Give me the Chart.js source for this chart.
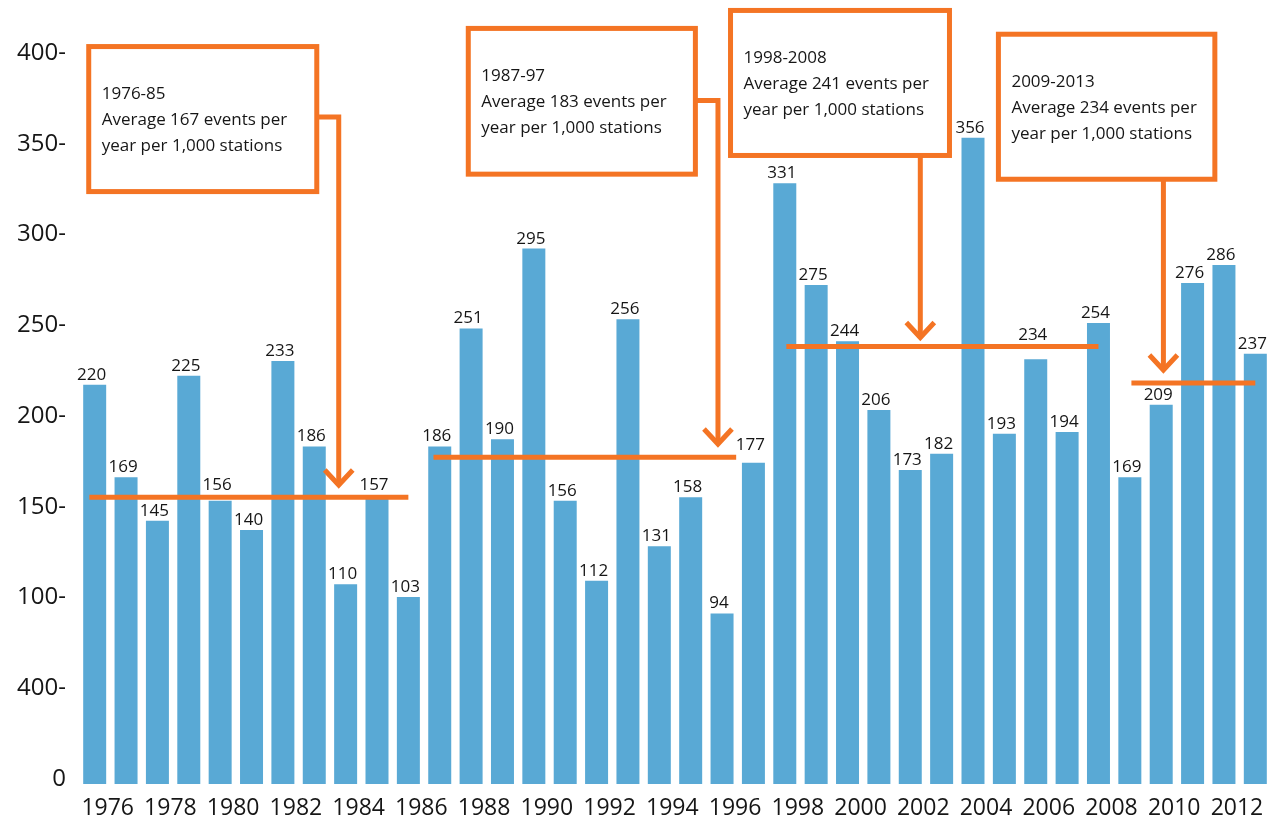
<!DOCTYPE html>
<html><head><meta charset="utf-8">
<script src="https://cdn.jsdelivr.net/npm/chart.js@4.4.1/dist/chart.umd.min.js"></script>
<style>html,body{margin:0;padding:0;background:#fff;}#wrap{width:1278px;height:821px;}canvas{display:block;}</style>
</head><body><div id="wrap"><canvas id="c" width="1278" height="821"></canvas></div>
<script>
// ---- data ----
const years = ['1976','1977','1978','1979','1980','1981','1982','1983','1984','1985','1986','1987','1988','1989','1990','1991','1992','1993','1994','1995','1996','1997','1998','1999','2000','2001','2002','2003','2004','2005','2006','2007','2008','2009','2010','2011','2012','2013'];
const values = [220,169,145,225,156,140,233,186,110,157,103,186,251,190,295,156,112,256,131,158,94,177,331,275,244,206,173,182,356,193,234,194,254,169,209,276,286,237];
const xTickLabels = ['1976','1978','1980','1982','1984','1986','1988','1990','1992','1994','1996','1998','2000','2002','2004','2006','2008','2010','2012'];
const yTickValues = [0,50,100,150,200,250,300,350,400];
const yTickLabels = ['0','400-','100-','150-','200-','250-','300-','350-','400-'];
// period annotations
const periodLabels = ['1976-85','1987-97','1998-2008','2009-2013'];
const periodAverages = [167,183,241,234];
const avgLineLevel = [158,180,241,221];          // drawn level of the orange line
const avgLineFrom = [-0.17,10.8,22.05,33.05];     // category index units
const avgLineTo = [10,20.45,32,37];
const arrowAt = [7.78,19.87,26.32,34.07];          // category index of arrow
const arrowTip = [164.7,187.3,246,228.1];          // value level of arrow tip
const boxLeft = [-0.19,11.91,20.27,28.81];
const boxRight = [7.08,19.15,27.25,35.71];
const boxTop = [406.3,416.3,426.2,413.1];
const boxBottom = [326.4,336.0,346.3,333.2];
const connectorFrom = ['right','right','bottom','bottom'];
const connectorLevel = [367.5,376.6,null,null];

const BLUE = '#59A9D5', ORANGE = '#F47424', INK = '#161616';
const FONT = "'Open Sans', sans-serif";

function avgLinePixels(chart){
  const xs = chart.scales.x, ys = chart.scales.y;
  return periodLabels.map((_,k)=>({x1: xs.getPixelForValue(avgLineFrom[k]), x2: xs.getPixelForValue(avgLineTo[k]), y: ys.getPixelForValue(avgLineLevel[k])}));
}

const dataLabels = {
  id:'dataLabels',
  afterDatasetsDraw(chart){
    const ctx = chart.ctx, meta = chart.getDatasetMeta(0);
    const lines = avgLinePixels(chart);
    ctx.save();
    ctx.font = '17px ' + FONT; ctx.fillStyle = INK;
    ctx.textAlign = 'center'; ctx.textBaseline = 'alphabetic';
    meta.data.forEach((bar,i)=>{
      const s = String(values[i]), cx = bar.x - 3, w = ctx.measureText(s).width;
      let base = bar.y - 5;
      lines.forEach(L=>{
        const overlapX = cx + w/2 > L.x1 && cx - w/2 < L.x2;
        const overlapY = base + 1 > L.y - 2.5 && base - 13 < L.y + 2.5;
        if (overlapX && overlapY) base = L.y - 7;
      });
      ctx.fillText(s, cx, base);
    });
    ctx.restore();
  }
};

const annotations = {
  id:'annotations',
  afterDraw(chart){
    const ctx = chart.ctx, xs = chart.scales.x, ys = chart.scales.y;
    const X = v => xs.getPixelForValue(v), Y = v => ys.getPixelForValue(v);
    const lines = avgLinePixels(chart);
    ctx.save();
    ctx.strokeStyle = ORANGE; ctx.lineWidth = 5; ctx.lineCap = 'butt'; ctx.lineJoin = 'miter';
    for (let k=0;k<periodLabels.length;k++){
      // average line
      ctx.beginPath(); ctx.moveTo(lines[k].x1, lines[k].y); ctx.lineTo(lines[k].x2, lines[k].y); ctx.stroke();
      // box
      const l = X(boxLeft[k]), r = X(boxRight[k]), t = Y(boxTop[k]), b = Y(boxBottom[k]);
      ctx.fillStyle = '#fff';
      ctx.fillRect(l, t, r-l, b-t);
      ctx.strokeRect(l, t, r-l, b-t);
      // connector
      const ax = X(arrowAt[k]), tipY = Y(arrowTip[k]);
      ctx.beginPath();
      if (connectorFrom[k]==='right'){
        const cy = Y(connectorLevel[k]);
        ctx.moveTo(r, cy); ctx.lineTo(ax, cy); ctx.lineTo(ax, tipY - 2);
      } else {
        ctx.moveTo(ax, b); ctx.lineTo(ax, tipY - 2);
      }
      ctx.stroke();
      // chevron head
      ctx.beginPath(); ctx.moveTo(ax-14, tipY-15); ctx.lineTo(ax, tipY); ctx.lineTo(ax+14, tipY-15); ctx.stroke();
      // text
      ctx.fillStyle = INK; ctx.font = '17px ' + FONT; ctx.textAlign = 'left'; ctx.textBaseline = 'alphabetic';
      const txt = [periodLabels[k], 'Average ' + periodAverages[k] + ' events per', 'year per 1,000 stations'];
      txt.forEach((s,j)=> ctx.fillText(s, l + 13, t - 2.5 + 55 + j*26));
    }
    ctx.restore();
  }
};

new Chart(document.getElementById('c'), {
  type:'bar',
  data:{ labels: years, datasets:[{ data: values, backgroundColor: BLUE, borderWidth:0, barPercentage:0.733, categoryPercentage:1 }]},
  options:{
    responsive:false, animation:false,
    layout:{ padding:{ top:58, right:7, left:0, bottom:0 } },
    plugins:{ legend:{display:false}, tooltip:{enabled:false} },
    scales:{
      x:{
        grid:{display:false, drawTicks:false}, border:{display:false},
        ticks:{ autoSkip:false, maxRotation:0, minRotation:0, labelOffset:13, padding:11, color:INK,
          font:{family:FONT, size:23},
          callback:(v,i)=> xTickLabels.includes(years[i]) ? years[i] : null },
        afterFit(s){ s.height = 37; }
      },
      y:{
        min:0, max:400,
        grid:{display:false, drawTicks:false}, border:{display:false},
        ticks:{ stepSize:50, padding:13, labelOffset:-5, color:INK, font:{family:FONT, size:24},
          callback:(v)=> yTickLabels[yTickValues.indexOf(v)] },
        afterFit(s){ s.width = 79; }
      }
    }
  },
  plugins:[dataLabels, annotations]
});
</script></body></html>
